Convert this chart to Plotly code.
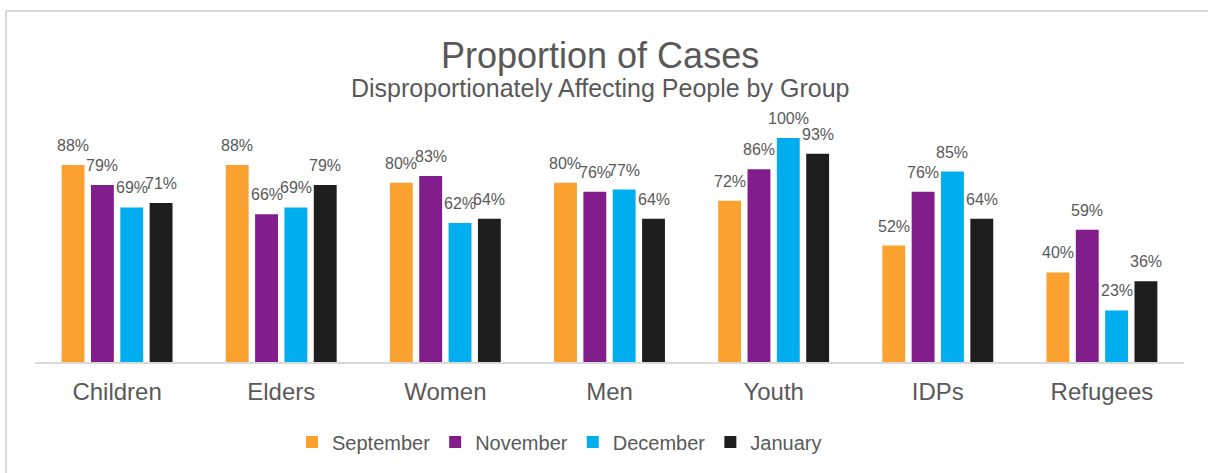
import plotly.graph_objects as go

categories = ["Children", "Elders", "Women", "Men", "Youth", "IDPs", "Refugees"]
series_names = ["September", "November", "December", "January"]
september = [88, 88, 80, 80, 72, 52, 40]
november = [79, 66, 83, 76, 86, 76, 59]
december = [69, 69, 62, 77, 100, 85, 23]
january = [71, 79, 64, 64, 93, 64, 36]
colors = ["#FBA12F", "#821E8B", "#00AEEF", "#1E1E1E"]

series_values = [september, november, december, january]

FONT = "Arial, 'Liberation Sans', sans-serif"
TXT = "#595959"

W, H = 1208, 473
ML, MR, MT, MB = 35, 24, 138, 111
PW = W - ML - MR
PH = H - MT - MB

fig = go.Figure()
for name, vals, col in zip(series_names, series_values, colors):
    fig.add_trace(go.Bar(
        x=categories, y=vals, name=name,
        marker=dict(color=col, line=dict(width=0)),
        hoverinfo="skip",
    ))

# data labels
bargap = 0.285
slot = PW / len(categories) * (1 - bargap) / len(series_names)
annotations = []
for i, vals in enumerate(series_values):
    for c, v in zip(categories, vals):
        annotations.append(dict(
            x=c, y=v, xref="x", yref="y", text=f"{v}%", showarrow=False,
            xshift=(i - 1.5) * slot, yshift=9, yanchor="bottom", xanchor="center",
            font=dict(family=FONT, size=16, color=TXT),
        ))

def py(px):
    return (H - MB - px) / PH

def pxx(px):
    return (px - ML) / PW

annotations.append(dict(
    x=pxx(600), y=py(55), xref="paper", yref="paper", text="Proportion of Cases",
    showarrow=False, xanchor="center", yanchor="middle",
    font=dict(family=FONT, size=36, color=TXT),
))
annotations.append(dict(
    x=pxx(600), y=py(88), xref="paper", yref="paper",
    text="Disproportionately Affecting People by Group",
    showarrow=False, xanchor="center", yanchor="middle",
    font=dict(family=FONT, size=25, color=TXT),
))

fig.update_layout(
    width=W, height=H,
    margin=dict(l=ML, r=MR, t=MT, b=MB, pad=0),
    paper_bgcolor="white", plot_bgcolor="white",
    barmode="group", bargap=bargap, bargroupgap=0.22,
    showlegend=True,
    legend=dict(
        orientation="h", x=pxx(559.5), xanchor="center", y=py(442), yanchor="middle",
        font=dict(family=FONT, size=20, color=TXT),
        itemwidth=30, traceorder="normal",
    ),
    xaxis=dict(
        showline=True, linecolor="#D9D9D9", linewidth=2,
        showgrid=False, ticks="", zeroline=False,
        tickfont=dict(family=FONT, size=24, color=TXT),
        ticklabelstandoff=7,
        fixedrange=True,
    ),
    yaxis=dict(
        range=[0, 100], visible=False, showgrid=False, zeroline=False,
        fixedrange=True,
    ),
    annotations=annotations,
    shapes=[dict(
        type="rect", xref="paper", yref="paper",
        x0=pxx(6), x1=pxx(1215), y0=py(11), y1=py(490),
        line=dict(color="#D9D9D9", width=2), fillcolor="rgba(0,0,0,0)",
        layer="above",
    )],
    font=dict(family=FONT, color=TXT),
)

fig.write_html("out.html", config={"displayModeBar": False})
